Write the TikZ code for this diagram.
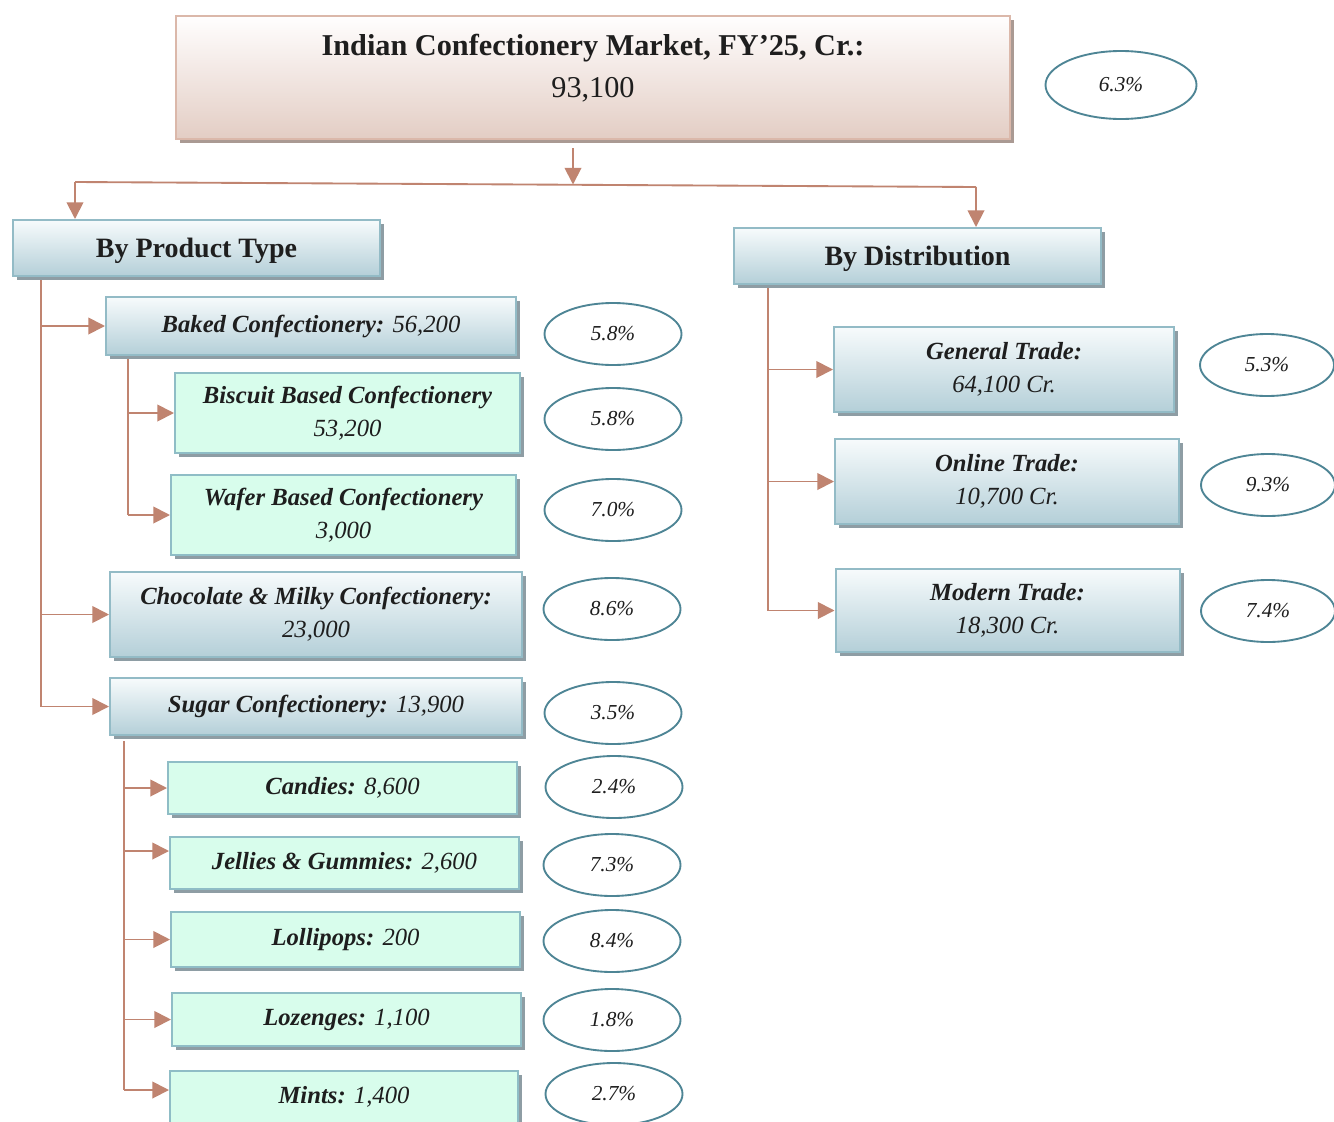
\documentclass[tikz,border=0pt]{standalone}
\usepackage{fontspec}
\setmainfont{Liberation Serif}
\usetikzlibrary{arrows.meta,shadows,shapes.geometric,calc}
\definecolor{connc}{HTML}{C08470}
\definecolor{bluetop}{HTML}{F7FBFC}
\definecolor{bluebot}{HTML}{B4CFD8}
\definecolor{blueedge}{HTML}{93BBC6}
\definecolor{mintfill}{HTML}{D8FDEC}
\definecolor{mintedge}{HTML}{8FBDC6}
\definecolor{shadowc}{HTML}{8E9DA4}
\definecolor{pinktop}{HTML}{FFFEFE}
\definecolor{pinkbot}{HTML}{E3CDC4}
\definecolor{pinkedge}{HTML}{DBB8AA}
\definecolor{pinkshadow}{HTML}{AA9A93}
\definecolor{ovaledge}{HTML}{4E8595}
\definecolor{txt}{HTML}{1E1E1E}
\tikzset{
  boxbase/.style={draw, line width=1.5pt, align=center, text=txt, inner sep=2pt},
  bshadow/.style={drop shadow={shadow xshift=3.2pt, shadow yshift=-3.2pt, fill=#1, opacity=1}},
  bluebox/.style={boxbase, draw=blueedge, top color=bluetop, bottom color=bluebot, bshadow=shadowc},
  mintbox/.style={boxbase, draw=mintedge, fill=mintfill, bshadow=shadowc},
  titlebox/.style={boxbase, draw=pinkedge, top color=pinktop, bottom color=pinkbot, bshadow=pinkshadow},
  header/.style={bluebox, minimum width=275.25pt, minimum height=42pt,
    font=\fontsize{21}{24}\selectfont\bfseries, text height=17pt, text depth=2.8pt},
  pct/.style={ellipse, draw=ovaledge, line width=1.4pt, fill=white, inner sep=0pt, text=txt,
    font=\fontsize{16}{19}\selectfont\itshape, minimum width=102.75pt, minimum height=46.5pt},
  item/.style={font=\fontsize{18.5}{25}\selectfont},
  conn/.style={draw=connc, line width=1.4pt},
  arr/.style={conn, -{Triangle[length=12.5pt,width=12.5pt]}},
}
\begin{document}
\begin{tikzpicture}[x=0.75pt,y=-0.75pt]
\useasboundingbox (0,0) rectangle (1334,1121);
\fill[white] (0,0) rectangle (1334,1121);

% title
\node[titlebox, minimum width=625.5pt, minimum height=92.25pt, text depth=18pt,
  font=\fontsize{22.7}{31.5}\selectfont] (top) at (593,77.5)
  {{\bfseries Indian Confectionery Market, FY’25, Cr.:}\\93,100};
\node[pct, minimum width=113.25pt, minimum height=51pt] (otop) at (1121,85) {6.3\%};

% headers
\node[header] (prod) at (196.5,248) {By Product Type};
\node[header] (dist) at (917.5,256) {By Distribution};

% product type
\node[bluebox, item, minimum width=307.5pt, minimum height=43.5pt] (baked) at (311,326)
  {{\bfseries\itshape Baked Confectionery:} \itshape 56,200};
\node[mintbox, item, minimum width=258.75pt, minimum height=60pt] (bisc) at (347.5,413)
  {{\bfseries\itshape Biscuit Based Confectionery}\\\itshape 53,200};
\node[mintbox, item, minimum width=258.75pt, minimum height=60pt] (wafer) at (343.5,515)
  {{\bfseries\itshape Wafer Based Confectionery}\\\itshape 3,000};
\node[bluebox, item, minimum width=309pt, minimum height=63.75pt] (choc) at (316,614.5)
  {{\bfseries\itshape Chocolate \& Milky Confectionery:}\\\itshape 23,000};
\node[bluebox, item, minimum width=309pt, minimum height=42.75pt] (sugar) at (316,706.5)
  {{\bfseries\itshape Sugar Confectionery:} \itshape 13,900};
\node[mintbox, item, minimum width=261.75pt, minimum height=39pt] (cand) at (342.5,788)
  {{\bfseries\itshape Candies:} \itshape 8,600};
\node[mintbox, item, minimum width=261.75pt, minimum height=39pt] (jel) at (344.5,863)
  {{\bfseries\itshape Jellies \& Gummies:} \itshape 2,600};
\node[mintbox, item, minimum width=261.75pt, minimum height=41.25pt] (loll) at (345.5,939.5)
  {{\bfseries\itshape Lollipops:} \itshape 200};
\node[mintbox, item, minimum width=261.75pt, minimum height=39.75pt] (loz) at (346.5,1019.5)
  {{\bfseries\itshape Lozenges:} \itshape 1,100};
\node[mintbox, item, minimum width=261pt, minimum height=39pt] (mint) at (344,1097)
  {{\bfseries\itshape Mints:} \itshape 1,400};

% distribution
\node[bluebox, item, minimum width=255pt, minimum height=63.75pt] (gen) at (1004,369.5)
  {{\bfseries\itshape General Trade:}\\\itshape 64,100 Cr.};
\node[bluebox, item, minimum width=258pt, minimum height=63.75pt] (onl) at (1007,481.5)
  {{\bfseries\itshape Online Trade:}\\\itshape 10,700 Cr.};
\node[bluebox, item, minimum width=258pt, minimum height=62.25pt] (mod) at (1007.5,610.5)
  {{\bfseries\itshape Modern Trade:}\\\itshape 18,300 Cr.};

% ovals
\node[pct] (obaked) at (613,334) {5.8\%};
\node[pct] (obisc) at (613,419) {5.8\%};
\node[pct] (owafer) at (613,510) {7.0\%};
\node[pct] (ochoc) at (612,609) {8.6\%};
\node[pct] (osugar) at (613,713) {3.5\%};
\node[pct] (ocand) at (614,787) {2.4\%};
\node[pct] (ojel) at (612,865) {7.3\%};
\node[pct] (ololl) at (612,941) {8.4\%};
\node[pct] (oloz) at (612,1020) {1.8\%};
\node[pct] (omint) at (614,1094) {2.7\%};
\node[pct, minimum width=100.5pt] (ogen) at (1267,365) {5.3\%};
\node[pct, minimum width=100.5pt] (oonl) at (1268,485) {9.3\%};
\node[pct, minimum width=100.5pt] (omod) at (1268,611) {7.4\%};

% top connectors
\coordinate (tout) at (573,148);
\coordinate (hm) at (573,184.5);
\coordinate (hl) at (75,182);
\coordinate (hr) at (976,187);
\draw[arr] (tout) -- (hm);
\draw[conn] (hl) -- (hr);
\draw[arr] (hl) -- (prod.north -| hl);
\draw[arr] (hr) -- (dist.north -| hr);

% product trunk
\coordinate (pt) at (41,280);
\draw[conn] (pt) -- (pt |- sugar.west);
\draw[arr] (pt |- baked.west) -- (baked.west);
\draw[arr] (pt |- choc.west) -- (choc.west);
\draw[arr] (pt |- sugar.west) -- (sugar.west);

% baked sub-trunk
\coordinate (bt) at (128,359);
\draw[conn] (bt) -- (bt |- wafer.west);
\draw[arr] (bt |- bisc.west) -- (bisc.west);
\draw[arr] (bt |- wafer.west) -- (wafer.west);

% sugar sub-trunk
\coordinate (st) at (124,741);
\coordinate (jelin) at ($(jel.west)+(0,-12)$);
\coordinate (mintin) at ($(mint.west)+(0,-7)$);
\draw[conn] (st) -- (st |- mintin);
\draw[arr] (st |- cand.west) -- (cand.west);
\draw[arr] (st |- jelin) -- (jelin);
\draw[arr] (st |- loll.west) -- (loll.west);
\draw[arr] (st |- loz.west) -- (loz.west);
\draw[arr] (st |- mintin) -- (mintin);

% distribution trunk
\coordinate (dt) at (768,288);
\draw[conn] (dt) -- (dt |- mod.west);
\draw[arr] (dt |- gen.west) -- (gen.west);
\draw[arr] (dt |- onl.west) -- (onl.west);
\draw[arr] (dt |- mod.west) -- (mod.west);
\end{tikzpicture}
\end{document}
